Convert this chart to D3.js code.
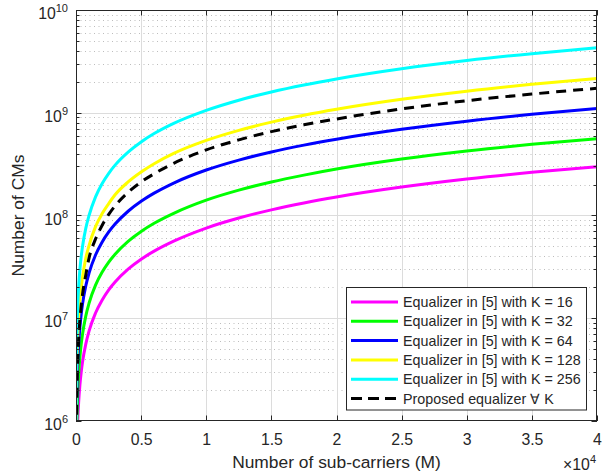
<!DOCTYPE html>
<html>
<head>
<meta charset="utf-8">
<script src="https://cdn.jsdelivr.net/npm/d3@7"></script>
<style>
  html, body { margin: 0; padding: 0; background: #fff; }
  svg { display: block; }
  text { font-family: "Liberation Sans", Arial, Helvetica, sans-serif; fill: #262626; }
</style>
</head>
<body>
<div id="chart"></div>
<script>
// ---- data ----
const M = [10, 25, 50, 100, 150, 200, 300, 400, 500, 750, 1000, 1500, 2000, 2500, 3000, 4000, 5000, 6000, 7500, 10000, 12500, 15000, 17500, 20000, 25000, 30000, 35000, 40000];
const eqK16  = [7.5e4, 1.875e5, 3.75e5, 7.5e5, 1.125e6, 1.5e6, 2.25e6, 3.0e6, 3.75e6, 5.6e6, 7.5e6, 1.125e7, 1.5e7, 1.88e7, 2.25e7, 3.0e7, 3.75e7, 4.5e7, 5.63e7, 7.55e7, 9.45e7, 1.135e8, 1.325e8, 1.515e8, 1.89e8, 2.265e8, 2.63e8, 2.98e8];
const eqK32  = [1.4e5, 3.5e5, 7e5, 1.4e6, 2.1e6, 2.8e6, 4.2e6, 5.6e6, 7e6, 1.05e7, 1.4e7, 2.1e7, 2.8e7, 3.5e7, 4.2e7, 5.6e7, 7e7, 8.4e7, 1.05e8, 1.41e8, 1.765e8, 2.12e8, 2.47e8, 2.83e8, 3.54e8, 4.24e8, 4.93e8, 5.6e8];
const eqK64  = [2.75e5, 6.9e5, 1.38e6, 2.75e6, 4.1e6, 5.5e6, 8.25e6, 1.1e7, 1.375e7, 2.06e7, 2.75e7, 4.13e7, 5.5e7, 6.88e7, 8.25e7, 1.1e8, 1.375e8, 1.65e8, 2.07e8, 2.77e8, 3.46e8, 4.15e8, 4.84e8, 5.53e8, 6.9e8, 8.28e8, 9.65e8, 1.1e9];
const eqK128 = [5e5, 1.25e6, 2.5e6, 5e6, 7.5e6, 1e7, 1.5e7, 2e7, 2.5e7, 3.83e7, 5.1e7, 7.8e7, 1.04e8, 1.3e8, 1.59e8, 2.12e8, 2.65e8, 3.19e8, 4.02e8, 5.38e8, 6.74e8, 8.1e8, 9.45e8, 1.08e9, 1.35e9, 1.62e9, 1.89e9, 2.16e9];
const eqK256 = [1e6, 2.5e6, 5e6, 1e7, 1.5e7, 2e7, 3e7, 4e7, 5e7, 7.5e7, 1.0e8, 1.52e8, 2.04e8, 2.56e8, 3.09e8, 4.14e8, 5.2e8, 6.27e8, 7.88e8, 1.055e9, 1.325e9, 1.595e9, 1.865e9, 2.135e9, 2.68e9, 3.22e9, 3.76e9, 4.3e9];
const proposed = [2.5e5, 6.5e5, 1.35e6, 2.9e6, 4.5e6, 6.2e6, 9.6e6, 1.32e7, 1.7e7, 2.63e7, 3.85e7, 5.9e7, 8.0e7, 1.02e8, 1.24e8, 1.68e8, 2.12e8, 2.55e8, 3.22e8, 4.35e8, 5.45e8, 6.55e8, 7.63e8, 8.7e8, 1.09e9, 1.31e9, 1.52e9, 1.73e9];

const seriesNames = [
  "Equalizer in [5] with K = 16",
  "Equalizer in [5] with K = 32",
  "Equalizer in [5] with K = 64",
  "Equalizer in [5] with K = 128",
  "Equalizer in [5] with K = 256",
  "Proposed equalizer \u2200 K"
];
const seriesValues = [eqK16, eqK32, eqK64, eqK128, eqK256, proposed];
const seriesColors = ["#ff00ff", "#00ff00", "#0000ff", "#ffff00", "#00ffff", "#000000"];
const seriesDashed = [false, false, false, false, false, true];

const xTicks = [0, 5000, 10000, 15000, 20000, 25000, 30000, 35000, 40000];
const xTickLabels = ["0", "0.5", "1", "1.5", "2", "2.5", "3", "3.5", "4"];
const yTickExps = [6, 7, 8, 9, 10];

// ---- layout ----
const W = 611, H = 476;
const L = 76, T = 10, R = 597, B = 421;
const axisColor = "#262626";

const svg = d3.select("#chart").append("svg").attr("width", W).attr("height", H);
svg.append("rect").attr("width", W).attr("height", H).attr("fill", "#fff");

const x = d3.scaleLinear().domain([0, 40000]).range([L, R]);
const y = d3.scaleLog().domain([1e6, 1e10]).range([B, T]);

// grid: minor y (dotted)
const minorVals = [];
for (let e = 6; e < 10; e++) for (let k = 2; k <= 9; k++) minorVals.push(k * Math.pow(10, e));
const grid = svg.append("g");
grid.selectAll("line.minor").data(minorVals).join("line")
  .attr("x1", L).attr("x2", R)
  .attr("y1", d => Math.round(y(d)) + 0.5).attr("y2", d => Math.round(y(d)) + 0.5)
  .attr("stroke", "#bdbdbd").attr("stroke-width", 1).attr("stroke-dasharray", "1,3.5");
grid.selectAll("line.majy").data([1e7, 1e8, 1e9]).join("line")
  .attr("x1", L).attr("x2", R)
  .attr("y1", d => Math.round(y(d)) + 0.5).attr("y2", d => Math.round(y(d)) + 0.5)
  .attr("stroke", "#dcdcdc").attr("stroke-width", 1);
svg.append("g").selectAll("line").data(xTicks.slice(1, -1)).join("line")
  .attr("x1", d => Math.round(x(d)) + 0.5).attr("x2", d => Math.round(x(d)) + 0.5)
  .attr("y1", T).attr("y2", B)
  .attr("stroke", "#dcdcdc").attr("stroke-width", 1);

// curves
svg.append("clipPath").attr("id", "clip").append("rect")
  .attr("x", L).attr("y", T).attr("width", R - L).attr("height", B - T);
const line = d3.line()
  .x((d, i) => x(M[i]))
  .y(d => y(d))
  .curve(d3.curveMonotoneX);
const curves = svg.append("g").attr("clip-path", "url(#clip)");
seriesValues.forEach((vals, s) => {
  curves.append("path")
    .attr("d", line(vals))
    .attr("fill", "none")
    .attr("stroke", seriesColors[s])
    .attr("stroke-width", 3)
    .attr("stroke-dasharray", seriesDashed[s] ? "10,7" : null);
});

// axes
const axes = svg.append("g");
const xa = d3.axisBottom(x).tickValues(xTicks).tickFormat((d, i) => xTickLabels[i]).tickSize(0).tickPadding(0);
const xAxisG = axes.append("g").attr("transform", `translate(0,${B})`).call(xa);
xAxisG.select(".domain").remove();
xAxisG.selectAll("text").attr("y", 23.5).attr("dy", null)
  .style("font-size", "15.8px").style("font-family", '"Liberation Sans", Arial, sans-serif').attr("fill", axisColor);

xTicks.forEach(v => {
  const px = Math.round(x(v)) + 0.5;
  axes.append("line").attr("x1", px).attr("x2", px).attr("y1", B).attr("y2", B - 5.5).attr("stroke", axisColor);
  axes.append("line").attr("x1", px).attr("x2", px).attr("y1", T).attr("y2", T + 5.5).attr("stroke", axisColor);
});
yTickExps.forEach(e => {
  const py = Math.round(y(Math.pow(10, e))) + 0.5;
  axes.append("line").attr("x1", L).attr("x2", L + 5.5).attr("y1", py).attr("y2", py).attr("stroke", axisColor);
  axes.append("line").attr("x1", R).attr("x2", R - 5.5).attr("y1", py).attr("y2", py).attr("stroke", axisColor);
});
minorVals.forEach(v => {
  const py = Math.round(y(v)) + 0.5;
  axes.append("line").attr("x1", L).attr("x2", L + 3.5).attr("y1", py).attr("y2", py).attr("stroke", axisColor);
  axes.append("line").attr("x1", R).attr("x2", R - 3.5).attr("y1", py).attr("y2", py).attr("stroke", axisColor);
});
axes.append("rect").attr("x", L + 0.5).attr("y", T + 0.5).attr("width", R - L - 1).attr("height", B - T - 1)
  .attr("fill", "none").attr("stroke", axisColor).attr("stroke-width", 1);

yTickExps.forEach(e => {
  const py = y(Math.pow(10, e));
  const t = axes.append("text").attr("x", 68).attr("y", py + 9).attr("text-anchor", "end")
    .style("font-size", "15.8px");
  t.append("tspan").text("10");
  t.append("tspan").attr("dy", -7).style("font-size", "11px").text(String(e));
});

const xe = svg.append("text").attr("x", 596).attr("y", 470).attr("text-anchor", "end").style("font-size", "15.8px");
xe.append("tspan").text("\u00d710");
xe.append("tspan").attr("dy", -7).style("font-size", "11px").text("4");

svg.append("text").attr("x", (L + R) / 2).attr("y", 468).attr("text-anchor", "middle")
  .style("font-size", "17.4px").text("Number of sub-carriers (M)");
svg.append("text").attr("transform", `translate(24,${(T + B) / 2}) rotate(-90)`)
  .attr("text-anchor", "middle").style("font-size", "17.4px").text("Number of CMs");

// legend
const lg = svg.append("g");
lg.append("rect").attr("x", 346.5).attr("y", 287.5).attr("width", 240).attr("height", 122.5)
  .attr("fill", "#fff").attr("stroke", axisColor).attr("stroke-width", 1);
seriesNames.forEach((name, s) => {
  const cy = 302 + s * 19.3;
  lg.append("line").attr("x1", 351).attr("x2", 398).attr("y1", cy).attr("y2", cy)
    .attr("stroke", seriesColors[s]).attr("stroke-width", 3)
    .attr("stroke-dasharray", seriesDashed[s] ? "11,6" : null);
  lg.append("text").attr("x", 403).attr("y", cy + 5).style("font-size", "14.3px").attr("fill", "#000").text(name);
});
</script>
</body>
</html>
